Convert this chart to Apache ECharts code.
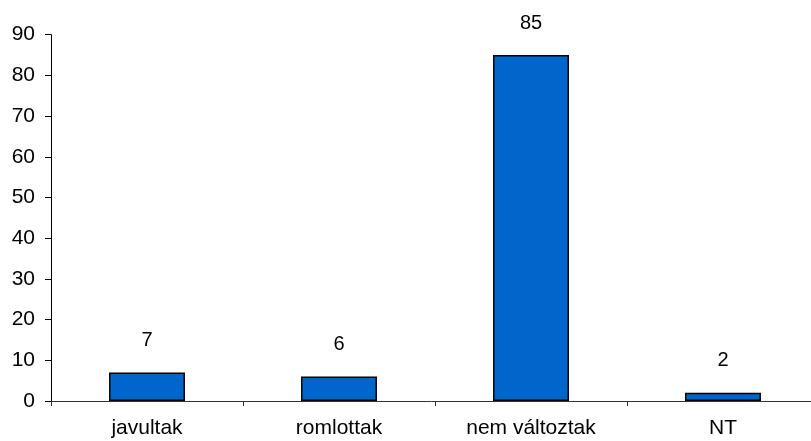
<!DOCTYPE html>
<html>
<head>
<meta charset="utf-8">
<script src="https://cdn.jsdelivr.net/npm/echarts@6/dist/echarts.min.js"></script>
<style>html,body{margin:0;padding:0;background:#fff;}#c{width:811px;height:441px;}</style>
</head>
<body>
<div id="c"></div>
<script>
const categories = ['javultak', 'romlottak', 'nem változtak', 'NT'];
const values = [7, 6, 85, 2];
const yTicks = { min: 0, max: 90, interval: 10 };

const chart = echarts.init(document.getElementById('c'), null, { renderer: 'canvas' });
chart.setOption({
  animation: false,
  backgroundColor: '#ffffff',
  grid: { left: 51, width: 768, top: 34.7, bottom: 40, outerBoundsMode: 'none' },
  xAxis: {
    type: 'category',
    data: categories,
    boundaryGap: true,
    axisLine: { lineStyle: { color: '#333', width: 1 } },
    axisTick: { show: true, inside: false, length: 5, lineStyle: { color: '#333' } },
    axisLabel: { margin: 17, fontSize: 21, color: '#000', fontFamily: 'Liberation Sans, Arial, sans-serif' }
  },
  yAxis: {
    type: 'value',
    min: yTicks.min, max: yTicks.max, interval: yTicks.interval,
    axisLine: { show: true, lineStyle: { color: '#000', width: 1 } },
    axisTick: { show: true, inside: false, length: 6, lineStyle: { color: '#000' } },
    splitLine: { show: false },
    axisLabel: { margin: 16, fontSize: 21, color: '#000', fontFamily: 'Liberation Sans, Arial, sans-serif' }
  },
  series: [{
    type: 'bar',
    data: values,
    barWidth: 76,
    itemStyle: { color: '#0066CC', borderColor: '#000', borderWidth: 1.5 },
    label: {
      show: true, position: 'top', distance: 22,
      fontSize: 20, color: '#000',
      fontFamily: 'Liberation Sans Narrow, Arial Narrow, sans-serif'
    }
  }]
});
</script>
</body>
</html>
